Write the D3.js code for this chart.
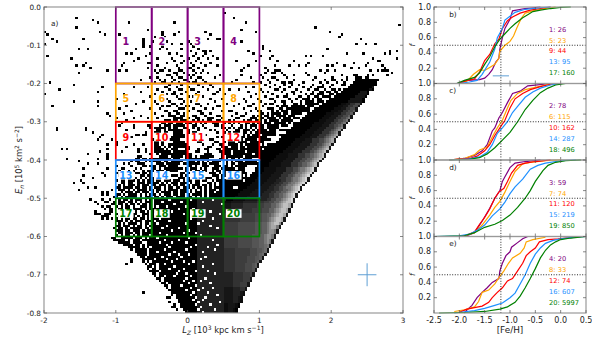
<!DOCTYPE html>
<html><head><meta charset="utf-8">
<style>html,body{margin:0;padding:0;background:#fff}svg{display:block}text{font-family:"DejaVu Sans",sans-serif;fill:#222}</style>
<script src="https://cdnjs.cloudflare.com/ajax/libs/d3/7.8.5/d3.min.js"></script>
</head><body><div id="c"></div>
<script>
const lzTicks=[-2,-1,0,1,2,3];
const enTicks=[0,-0.1,-0.2,-0.3,-0.4,-0.5,-0.6,-0.7,-0.8];
const fTicks=[0.2,0.4,0.6,0.8,1.0];
const fehTicks=[-2.5,-2,-1.5,-1,-0.5,0,0.5];
const lzEdges=[-1,-0.5,0,0.5,1];
const enEdges=[0,-0.2,-0.3,-0.4,-0.5,-0.6];
const rowColours=["#800080","#ffa500","#ff0000","#1e90ff","#008000"];
const lzBinsPerUnit=30, enBinsPerUnit=160;
const grayStep=24;
// histogram cells, one string per En bin: "LzBin:pattern" with # black, digits grey, . empty
const sparseBins=["","","75:#","","13:# 79:#","20:#","22:# 35:# 54:# 84:#","148:#","13:# 113:#","43:# 82:#",
"0:# 23:# 49:# 56:# 67:# 88:# 119:#","1:# 25:# 31:# 49:# 54:# 69:# 124:#","46:# 50:# 123:#","3:# 16:# 41:# 68:# 72:## 132:#","5:# 41:# 45:# 51:# 60:# 82:#","0:# 41:# 53:# 57:# 61:# 130:# 134:# 138:#","41:# 44:# 49:# 62:# 91:#","14:# 18:# 38:# 48:# 51:# 57:# 64:# 91:# 118:#","61:# 66:## 69:# 85:# 94:# 144:# 147:#","34:# 36:# 44:# 52:# 55:# 63:# 67:# 87:# 126:# 133:# 142:# 144:#",
"1:# 42:# 57:# 62:# 66:# 70:# 90:# 95:# 109:# 111:# 116:#","11:# 39:# 47:# 53:# 60:# 64:# 68:# 72:# 94:# 137:# 147:#","37:# 54:# 58:# 63:# 80:# 88:# 97:# 104:# 139:##","17:# 33:# 43:## 51:# 57:# 61:# 65:# 69:# 110:# 122:# 129:# 135:#","13:# 16:# 32:# 47:# 55:# 62:# 67:# 72:# 85:# 96:# 102:# 106:# 109:# 118:# 120:# 125:# 134:# 141:#","19:# 43:# 50:# 56:# 60:## 64:# 83:# 92:# 128:# 131:# 142:#","26:# 31:# 34:# 46:# 48:## 52:# 56:## 62:# 66:# 82:# 93:# 96:### 115:# 118:# 121:# 136:# 139:# 141:## 143:#","14:# 47:# 54:## 58:# 63:# 65:# 68:# 92:# 95:## 99:# 109:# 117:# 145:#","51:## 55:# 60:# 62:# 73:# 82:# 90:# 100:# 104:# 110:# 124:# 129:## 135:# 137:# 143:#","44:# 47:# 53:# 56:## 61:# 64:## 71:# 86:# 91:# 95:## 101:# 113:# 120:# 126:# 130:### 134:##",
"40:# 48:# 50:# 54:# 58:## 63:# 66:# 80:# 93:# 97:# 104:# 112:# 117:# 120:## 124:# 126:#","2:# 46:# 49:## 53:# 56:# 60:# 62:## 67:# 78:# 87:# 90:# 94:# 99:## 102:## 108:# 115:# 118:# 122:# 125:#","12:# 52:# 57:# 64:# 69:# 92:# 96:# 100:# 103:# 106:# 112:# 116:# 120:# 124:##","24:# 37:# 43:# 50:## 55:# 60:# 66:# 70:# 84:# 87:# 94:# 98:# 102:# 108:# 111:# 114:### 119:#","6:# 47:# 52:# 56:## 61:## 68:# 73:# 77:# 81:# 90:# 96:## 100:# 105:# 110:# 113:## 117:# 120:## 123:#","22:# 40:# 49:# 54:# 59:# 64:# 72:# 85:# 91:# 93:# 99:# 103:## 107:# 112:# 115:## 118:## 121:##","0:# 33:# 46:# 51:# 53:## 57:# 63:# 70:## 75:# 88:# 95:# 101:# 104:# 109:# 111:## 114:### 119:##","44:# 48:# 55:# 60:# 62:# 66:# 80:# 86:# 92:# 97:# 100:## 106:## 110:# 113:## 116:####","30:# 35:# 50:## 56:## 65:# 69:# 74:# 78:# 83:# 89:# 94:## 102:# 105:# 108:### 112:#.##","12:# 22:# 41:# 46:# 52:# 58:# 61:# 64:## 71:# 84:# 90:# 96:# 99:## 103:# 107:#.## 111:##.###",
"38:# 47:# 53:## 57:# 63:## 68:# 76:# 81:# 87:# 92:# 94:## 100:# 104:##.# 109:######","3:# 22:# 34:# 49:# 51:## 55:# 59:## 65:# 72:## 79:# 85:## 91:# 97:#.## 101:#.### 106:###.###","31:# 44:# 48:# 56:### 62:# 67:# 70:# 83:# 88:# 93:### 98:##.## 103:########","36:# 50:## 54:## 60:# 64:## 74:# 77:## 86:# 89:## 95:#.#.## 101:#.########","26:# 33:# 46:# 52:# 55:## 58:# 65:## 69:# 80:# 84:# 90:##.#.### 98:#.##.#####","27:# 40:# 49:# 52:### 57:## 62:## 67:# 72:## 78:# 82:## 87:#.## 92:##.#.####.###","30:# 37:# 43:# 47:# 54:#### 60:# 63:## 68:### 74:# 80:## 86:###.##.####.#.###.###","34:# 50:###.## 57:### 62:#.# 66:#.## 72:## 77:#.# 83:#.##.###.#.####.#####","32:# 49:##.## 55:### 59:### 63:#.#.# 70:### 75:#.# 79:#.# 84:##.#.##.###.#####.#.#","31:# 37:# 43:## 48:#.###.## 56:### 62:## 66:# 71:##.# 78:# 82:#.#.###.##.#####.###",
"5:# 17:# 37:# 44:#.#####.#.## 58:## 62:#.# 67:# 74:## 77:#.# 81:##.#.#.#.##.#####","5:# 17:# 34:# 47:##.#.###### 60:# 64:# 69:#.# 76:# 80:##.###.#.####.###.####","20:# 42:# 46:###.##..#### 60:# 62:## 72:# 75:#.# 79:###.##.#.#########","24:# 38:## 41:## 49:###..##### 61:# 66:## 78:#.##.#.#.###.######.###","23:# 36:# 47:##.#..######. 65:## 72:#.# 77:#.#.###.########","22:# 28:# 45:###...###### 62:# 64:# 69:## 76:##.##.#.#####.#####","30:# 46:##.#....##### 64:## 71:## 75:#.###.####.######","26:# 30:# 37:# 41:# 46:##.#..######## 66:# 70:# 73:## 77:####.#.######.#.###","34:# 46:###.#.#.####### 68:## 74:###.###.##.##########","7:# 9:# 26:# 39:# 42:# 46:####.#.### 59:## 64:# 67:## 72:##.######.#########.##",
"23:# 32:# 39:# 42:# 46:#######.###### 63:## 68:# 73:#####.#####.##########","18:# 26:# 44:# 47:#.############# 67:### 74:####.########.#######","26:# 39:## 48:####.#####.## 61:#.# 65:###### 74:#.#######.###########","9:# 22:# 26:# 38:##.## 44:#########.### 59:########## 73:##.#.##.#.####","14:# 36:#.## 42:#.#####.##.##### 60:###.#.#.#.#### 76:#.#.###.#####","18:# 22:# 33:#.# 39:### 47:###.######.#### 62:###.##.#### 76:#.##.#########","30:# 36:# 41:## 44:###.###.#### 60:##.#..### 71:###.##.#.#####","16:# 26:# 32:## 38:#.# 45:##.#.########.#.###.#.# 70:###.######.###","31:# 35:#.# 41:#.###.###.##### 59:#.#.##.## 70:#.##.#########","24:# 30:## 36:#.##.##.#.##### 57:##.###.#.# 69:###.#.##########",
"16:# 25:# 31:### 40:##.##.######.###.#.#.#.## 70:###.###.#####.#","20:# 33:#.##.#.#.#.##.#### 56:###.#.#.#.#### 72:#.#.#########","15:# 30:#.##.###.#.#.###.##.###.###.#.##.##.## 70:#.###########","12:# 16:# 32:##.##..###.#####.#.#.###.###.#.## 68:##.#.###########","31:#.#.###.#.###.##.###.#.##.##.#.###.##.#.#.#########","18:# 21:# 30:##.####.##.##.#.###.#.##.##.###.#.##.#.#.########","14:# 28:# 31:###.#.#.####.##.##.#.####.###.#.#.#.#.###.########","24:# 26:# 32:#.###.##.###.#.#.####.##.###.#.###.#.##.##########","24:# 26:# 30:##.#.####.#.#.###.#.###.##.##.#.####.#.###########","29:##.#.#####.#.###.##.#.###.####.##.#.#.#.#############",
"19:# 24:# 27:# 31:#.##.#.###.#.#.##.#.####.##.####.###.###.###.#######","21:# 25:## 29:#.###.##.#.#.###.##.#######.#########.########.##.#.##","22:# 28:##.##.#.##.#.##.#.###.########.#####.#########.#.####.###","24:# 26:## 30:#.#.##.#..###.#.##.##.#.#####.#######.##.#####.####","25:#.## 31:##.##.####.#.##.#######.#####.####.##.######.#.###","21:# 27:## 32:#.###.#.##.#.###.######.#.##########.#####.####","21:### 25:### 30:#.##.#.##..###.##.###########.########.########","24:### 31:##.####.#.#.#.###.#####.#.#####.###.###.#####.##","24:# 26:# 28:# 30:#.#.##.##.##.#.##.####.#################.########","30:###.#.#.###.####.#.#####.##.##.######.#.####.#####",
"31:#.#.####.#.##.###.#######.#####.###.###########.##","30:##.###.#.##.#.###.##.#######.#.#########.########","29:#.##.#.#####.##.#.#########.##.##.##.##########","30:###.##.###.#.####.##########.#####.##.########","31:##.###.##.#####.########.####.######.#########","30:#.#.##.#.#.###.##.###########.######.##.#######","28:##..#####.###.#.###.###################.#######","29:#####.#.###.####.#####.#.#.###.########.#####.1#1##1","31:#####.####..#.#.#####.#####.###.#######.####1#1#1##","33:####.##.#.####.##.#.########.###.#######.##1#1#1#1",
"35:#####.#.#.###.#.##.#.#####.###.#.##.#####1#1#11#1","36:#.#####.#.###.###.##.#####.###.#.####1#1#.#1#1","38:#####.##.#.###.#.###.######.#.####.##1#.1#1#1","39:####.##.###.#.##.#.#####.#.#####.#1#1#.1","40:##.####.#.#.#.####.###.###.#.###.##1#1","36:# 41:#####.###.#.##.#.####.#.###.#.#####1","36:# 41:#.#.###..##.#.###.##.#.###.###.##1#","34:# 42:#.###.#.#.#.##.###.#.##.#.####.#1#","43:##.#.###.#.###.#.##.####.#.###.##","43:#.##.##.#.#.##.###.#.##.###.####",
"44:####.#.##.###.#.####.#.#.##.##","45:##.###.#.##.##.#.###.####.###","46:#.##..#.###.#.##.###.#.#####","47:##.#.#.###.#.####.##.######","48:#.###.##.#.###.##.#.######","49:##.#.##.###.#.###.#######","50:##.#.###.#.####.#.######","51:#.###.#.####.##.#######","52:###.#.#.###.###.#.#####","41:# 53:##.###.#.###.#.######",
"53:#.#.####.###.#.###.###","51:## 55:#.###.##.####.#.####","56:###.#.#.####.#.#######","52:# 56:#.##.#.###.##.#.#####","54:# 57:####.#.#.###.###.###","53:## 60:#.#.###.#.####.##","55:# 60:##.#..###.#####","60:#.#.#.#..####.#"];
// solid dark bed under the dense lower region: first Lz bin per En bin, starting at En bin 80
const bedFirstBin=80, bedGreyFrom=64, bedEnd=76, bedGrey=1.5;
const bedStarts=[47,47,46,47,46,47,46,47,46,47,46,47,46,47,46,47,46,44,44,44,45,45,46,46,47,47,48,48,49,49,50,50,51,51,52,52,53,53,54,54,55,55,56,56,57,57,58,59];
// empty Lz bins punched through the dense lower region, En bins 80 to 127
const holeBins=["52 61 70","49 66 57","54 74","47 59 51","62 56","69 49 53","73 46 58","50 63","61 48 70","52 66","47 64 59","69 51","49 72 56","60 53","48 63 58","65 51","47 60",
"56 70 50","48 59 53","63 51 72","68 52 61","50 59 71","54 66 47","52 60 56","57 67 49","55 65 51","62 58 53","70 50 60","54 66","58 52","63 56 68","55 71 59","61 54","59 67","65 62 58","60 69","63 57","61 70 66","59 64","68 62","61 72","67 63","66 62","64 73","69 63","65","71 64","66"];
// dense wedge: "firstLzBin grey*count ..." per En bin, starting at En bin 30
const wedgeBins=["130 0*10","129 0*10","128 0*11","127 0*10 1*1","125 0*11 1*1 0*1","124 0*8 1*3 0*1","122 0*9 1*4 0*1","121 0*9 1*4 0*1","119 0*9 1*5 0*1","118 0*9 1*6 0*1",
"116 0*8 .5*2 1*2 2*2 3*2 1*1","115 0*8 .5*2 1*2 2*2 3*2 1*1","113 0*8 .5*3 1*2 2*2 3*2 1*1","112 0*8 .5*3 1*2 2*2 3*2 4*1 1*1","110 0*8 .5*3 1*3 2*2 3*2 4*1 1*1","109 0*8 .5*3 1*3 2*2 3*2 4*1 1*1","108 0*8 .5*3 1*3 2*2 3*2 4*1 5*1 1*1","107 0*8 .5*3 1*3 2*2 3*2 4*1 5*1 1*1","105 0*8 .5*4 1*3 2*2 3*2 4*1 5*1 1*1","104 0*8 .5*4 1*3 2*2 3*2 4*1 5*1 1*1",
"103 0*8 .5*4 1*3 2*3 3*1 4*1 5*1 6*1 1*1","102 0*8 .5*4 1*3 2*3 3*1 4*1 5*1 6*1 1*1","101 0*8 .5*4 1*3 2*3 3*1 4*1 5*1 6*1 1*1","100 0*8 .5*4 1*3 2*3 3*1 4*1 5*1 6*1 7*1 1*1","99 0*8 .5*4 1*3 2*3 3*1 4*1 5*1 6*1 7*1 1*1","98 0*7 .5*4 1*3 2*3 3*2 4*1 5*1 6*1 7*1 1*1","97 0*7 .5*4 1*4 2*3 3*2 4*1 5*1 6*1 7*1 1*1","96 0*7 .5*4 1*4 2*3 3*2 4*1 5*1 6*1 7*1 1*1","95 0*7 .5*4 1*4 2*3 3*2 4*1 5*1 6*1 7*1 1*1","94 0*7 .5*4 1*4 2*3 3*2 4*1 5*1 6*1 7*1 8*1 1*1",
"93 0*7 .5*4 1*4 2*3 3*2 4*1 5*1 6*1 7*1 8*1 1*1","92 0*6 .5*4 1*4 2*3 3*2 4*2 5*1 6*1 7*1 8*1 1*1","91 0*6 .5*5 1*4 2*3 3*2 4*2 5*1 6*1 7*1 8*1 1*1","90 0*6 .5*5 1*4 2*3 3*2 4*2 5*1 6*1 7*1 8*1 1*1","90 0*5 .5*5 1*4 2*3 3*2 4*2 5*1 6*1 7*1 8*1 1*1","89 0*5 .5*5 1*4 2*3 3*2 4*2 5*1 6*1 7*1 8*1 1*1","89 0*5 .5*5 1*4 2*3 3*2 4*2 5*1 6*1 7*1 8*1 1*1","88 0*4 .5*5 1*4 2*3 3*2 4*1 5*2 6*1 7*1 8*1 9*1 1*1","88 0*4 .5*5 1*4 2*3 3*2 4*1 5*2 6*1 7*1 8*1 9*1 1*1","87 0*4 .5*5 1*4 2*3 3*2 4*1 5*2 6*1 7*1 8*1 9*1 1*1",
"86 0*4 .5*5 1*4 2*3 3*2 4*1 5*2 6*1 7*1 8*1 9*1 1*1","85 0*4 .5*5 1*4 2*3 3*2 4*1 5*2 6*1 7*1 8*1 9*1 1*1","84 0*4 .5*5 1*4 1.5*2 2*2 3*2 4*1 5*2 6*1 7*1 8*1 9*1 1*1","83 0*4 .5*5 1*4 1.5*2 2*2 3*2 4*1 5*2 6*1 7*1 8*1 9*1 1*1","82 0*4 .5*5 1*4 1.5*2 2*2 3*2 4*1 5*2 6*1 7*1 8*1 9*1 1*1","81 0*4 .5*5 1*4 1.5*2 2*2 3*2 4*1 5*2 6*1 7*1 8*1 9*1 1*1","80 0*3 .5*5 1*5 1.5*3 2*2 3*2 4*2 5*1 6*1 7*1 8*1 9*1 1*1","79 0*3 .5*5 1*5 1.5*3 2*2 3*2 4*2 5*1 6*1 7*1 8*1 9*1 1*1","78 0*3 .5*5 1*5 1.5*3 2*2 3*2 4*2 5*1 6*1 7*1 8*1 9*1 1*1","77 0*3 .5*5 1*5 1.5*4 2*2 3*2 4*2 5*1 6*1 7*1 8*1 9*1 1*1",
"76 0*3 .5*5 1*5 1.5*4 2*2 3*2 4*2 5*1 6*1 7*1 8*1 9*1 1*1","75 .5*3 1*5 1.5*6 2*3 2.5*2 3*2 4*2 5*1 6*1 7*1 8*2 9*1 1*1","75 1*3 1.5*5 2*6 2.5*3 3*3 4*2 5*1 6*1 7*1 8*2 7*1 1*1","75 1*3 1.5*5 2*6 2.5*3 3*3 4*2 5*1 6*1 7*1 8*2 7*1 1*1","75 1.5*5 2*7 2.5*4 3*3 4*2 5*1 6*1 7*1 8*2 7*1 1*1","75 1.5*5 2*7 2.5*4 3*3 4*2 5*1 6*1 7*1 8*2 7*1 1*1","75 2*7 2.5*6 3*3 3.5*2 4*2 5*1 6*1 7*1 8*2 7*1 1*1","75 2*7 2.5*6 3*3 3.5*2 4*2 5*1 6*1 7*1 8*2 7*1 1*1","75 2*7 2.5*6 3*3 3.5*2 4*1 5*1 6*1 7*1 8*2 7*1 1*1","75 2*7 2.5*6 3*3 3.5*2 4*1 5*1 6*1 7*1 8*2 7*1 1*1",
"75 2.5*6 3*7 3.5*3 4*2 5*1 6*1 7*1 8*2 6*1 1*1","75 2.5*6 3*7 3.5*3 4*2 5*1 6*1 7*2 5*1 1*1","75 2.5*6 3*7 3.5*3 4*2 5*1 6*1 7*2 5*1 1*1","75 2.5*6 3*7 3.5*3 4*2 5*1 6*2 5*1 1*1","75 2.5*6 3*7 3.5*3 4*2 5*1 6*2 5*1 1*1","75 2.5*6 3*6 3.5*3 4*2 5*1 6*2 5*1 1*1","75 2.5*6 3*6 3.5*3 4*2 5*1 6*2 5*1 1*1","75 2.5*6 3*6 3.5*3 4*2 5*1 6*1 5*1 1*1","75 2.5*6 3*6 3.5*3 4*2 5*1 6*1 5*1 1*1","75 2.5*6 3*6 3.5*3 4*2 4.5*1 5*1 1*1",
"75 2.5*6 3*6 3.5*3 4*2 4.5*1 5*1 1*1","75 2*5 2.5*6 3*3 3.5*2 4*1 4.5*1 1*1","75 2*5 2.5*6 3*3 3.5*2 4*1 4.5*1 1*1","75 2*5 2.5*6 3*3 3.5*1 4*1 4.5*1 1*1","75 2*5 2.5*5 3*3 3.5*2 4*1 1*1","75 2*5 2.5*5 3*3 3.5*2 4*1 1*1","75 2*5 2.5*5 3*3 3.5*1 4*1 1*1","75 2*5 2.5*4 3*3 3.5*1 4*1 1*1","75 2*5 2.5*4 3*3 3.5*1 4*1 1*1","75 2*5 2.5*4 3*3 3.5*1 1*1",
"75 2*5 2.5*4 3*3 3.5*1 1*1","75 1.5*4 2*4 2.5*3 3*1 1*1","75 1.5*4 2*4 2.5*3 3*1 1*1","75 1.5*4 2*4 2.5*3 1*1","75 1.5*4 2*4 2.5*3 1*1","75 1.5*4 2*3 2.5*3 1*1","75 1.5*4 2*3 2.5*3 1*1","75 1*4 1.5*3 2*2 1*1","75 1*4 1.5*3 2*2 1*1","75 1*4 1.5*3 1*1 .5*1",
"75 1*4 1.5*3 1*1 .5*1","75 1*4 1.5*2 1*1 .5*1","75 1*4 1.5*2 1*1 .5*1","75 1*4 1.5*2 1*1 .5*1","75 .5*2 1*3 .5*1 0*1","75 .5*2 1*3 .5*1 0*1","75 .5*2 1*2 .5*1 0*1","75 .5*2 1*2 .5*1 0*1"];
const wedgeFirstBin=30;
const boxLabels=[["1",-0.86,-0.09],["2",-0.36,-0.09],["3",0.14,-0.09],["4",0.64,-0.09],
["5",-0.86,-0.24],["6",-0.36,-0.24],["7",0.14,-0.24],["8",0.64,-0.24],
["9",-0.86,-0.34],["10",-0.36,-0.34],["11",0.14,-0.34],["12",0.64,-0.34],
["13",-0.86,-0.44],["14",-0.36,-0.44],["15",0.14,-0.44],["16",0.64,-0.44],
["17",-0.86,-0.54],["18",-0.36,-0.54],["19",0.14,-0.54],["20",0.64,-0.54]];
const errLz=[2.5,0.13], errEn=[-0.7,0.03];
const errFeh=[-1.18,0.16,0.1], medianFeh=-1.18, medianF=0.5;
const cdf1=[[-2.05,0],[-1.85,.04],[-1.6,.05],[-1.5,.07],[-1.42,.12],[-1.35,.18],[-1.28,.28],[-1.22,.33],[-1.2,.45],[-1.15,.6],[-1.1,.72],[-1,.84],[-.95,.95],[-.7,.98],[-.4,1]];
const cdf5=[[-2,0],[-1.85,.03],[-1.72,.12],[-1.6,.18],[-1.5,.17],[-1.4,.21],[-1.3,.25],[-1.22,.33],[-1.2,.42],[-1.1,.5],[-1,.55],[-.93,.62],[-.87,.72],[-.78,.85],[-.7,.92],[-.55,.95],[-.3,.98],[-.1,1]];
const cdf9=[[-2,0],[-1.85,.04],[-1.7,.06],[-1.6,.15],[-1.5,.3],[-1.4,.38],[-1.3,.52],[-1.22,.58],[-1.15,.72],[-1.05,.82],[-.95,.87],[-.8,.92],[-.6,.96],[-.4,.98],[-.2,1]];
const cdf13=[[-2,0],[-1.8,.02],[-1.65,.04],[-1.55,.12],[-1.4,.28],[-1.3,.45],[-1.25,.6],[-1.15,.72],[-1.1,.83],[-1,.88],[-.9,.93],[-.7,.97],[-.4,.99],[-.2,1]];
const cdf17=[[-2.05,0],[-1.9,.04],[-1.7,.08],[-1.6,.14],[-1.5,.25],[-1.4,.35],[-1.3,.48],[-1.2,.58],[-1.1,.65],[-1,.72],[-.9,.78],[-.75,.86],[-.65,.9],[-.55,.94],[-.4,.96],[-.2,.98],[0,.995],[.2,1]];
const cdf2=[[-2.2,0],[-1.9,.02],[-1.7,.06],[-1.55,.12],[-1.45,.2],[-1.35,.38],[-1.3,.42],[-1.22,.55],[-1.15,.62],[-1.05,.75],[-.95,.87],[-.8,.9],[-.65,.97],[-.5,.98],[-.2,1]];
const cdf6=[[-2.2,0],[-1.9,.02],[-1.7,.07],[-1.6,.13],[-1.45,.17],[-1.35,.3],[-1.25,.42],[-1.15,.52],[-1.05,.68],[-.98,.78],[-.85,.87],[-.7,.92],[-.5,.95],[-.3,.98],[-.1,1]];
const cdf10=[[-2.2,0],[-1.8,.02],[-1.65,.05],[-1.5,.12],[-1.4,.2],[-1.3,.32],[-1.2,.42],[-1.1,.52],[-1,.68],[-.9,.8],[-.75,.87],[-.6,.92],[-.4,.96],[-.2,.99],[0,1]];
const cdf14=[[-2.2,0],[-1.8,.015],[-1.6,.04],[-1.45,.1],[-1.35,.2],[-1.25,.35],[-1.15,.42],[-1.05,.5],[-.95,.62],[-.85,.7],[-.7,.82],[-.55,.89],[-.4,.94],[-.2,.98],[0,1]];
const cdf18=[[-2.2,0],[-1.8,.01],[-1.6,.03],[-1.45,.08],[-1.3,.16],[-1.15,.26],[-1,.36],[-.85,.5],[-.7,.66],[-.55,.78],[-.4,.88],[-.25,.94],[-.1,.98],[.1,1],[.3,1]];
const cdf3=[[-2,0],[-1.85,.01],[-1.7,.05],[-1.55,.2],[-1.4,.37],[-1.3,.5],[-1.2,.6],[-1.15,.72],[-1.1,.78],[-1,.9],[-.9,.96],[-.7,.98],[-.4,1]];
const cdf7=[[-1.9,.01],[-1.7,.05],[-1.55,.15],[-1.4,.28],[-1.3,.38],[-1.2,.46],[-1.1,.58],[-1,.72],[-.9,.85],[-.75,.95],[-.6,.97],[-.3,.99],[0,1]];
const cdf11=[[-2,0],[-1.85,.02],[-1.7,.06],[-1.6,.16],[-1.5,.25],[-1.4,.36],[-1.3,.5],[-1.22,.58],[-1.12,.63],[-1.05,.72],[-.97,.83],[-.85,.93],[-.7,.96],[-.5,.98],[-.2,1]];
const cdf15=[[-2.5,0],[-2,.01],[-1.8,.03],[-1.65,.08],[-1.5,.15],[-1.35,.27],[-1.2,.36],[-1.1,.45],[-1,.56],[-.9,.65],[-.75,.75],[-.6,.88],[-.45,.93],[-.3,.96],[0,.99],[.3,1]];
const cdf19=[[-2.5,0],[-1.9,.01],[-1.7,.05],[-1.5,.12],[-1.3,.16],[-1.15,.21],[-1,.28],[-.85,.38],[-.7,.5],[-.6,.6],[-.5,.72],[-.35,.86],[-.25,.93],[-.1,.97],[.1,.99],[.4,1]];
const cdf4=[[-1.9,0],[-1.85,.04],[-1.75,.1],[-1.65,.2],[-1.55,.27],[-1.45,.33],[-1.35,.4],[-1.22,.45],[-1.2,.55],[-1.15,.65],[-1.08,.75],[-1,.8],[-.97,.86],[-.85,.92],[-.75,.97],[-.65,1]];
const cdf8=[[-2.1,.02],[-1.9,.04],[-1.7,.08],[-1.62,.15],[-1.55,.27],[-1.42,.3],[-1.3,.38],[-1.2,.48],[-1.12,.55],[-1.03,.65],[-.95,.72],[-.8,.78],[-.72,.85],[-.68,.93],[-.55,.96],[-.3,.99]];
const cdf12=[[-2,.01],[-1.85,.05],[-1.7,.07],[-1.55,.09],[-1.42,.14],[-1.35,.2],[-1.25,.27],[-1.15,.33],[-1.05,.42],[-.95,.45],[-.85,.55],[-.75,.65],[-.68,.75],[-.6,.8],[-.5,.85],[-.42,.93],[-.25,.96],[-.05,.97],[.1,.98],[.4,1]];
const cdf16=[[-2.1,0],[-1.7,.03],[-1.5,.06],[-1.3,.1],[-1.15,.13],[-1,.2],[-.9,.26],[-.8,.38],[-.7,.5],[-.6,.65],[-.5,.77],[-.4,.85],[-.3,.91],[-.15,.95],[0,.97],[.2,.985],[.5,1]];
const cdf20=[[-2.4,0],[-1.8,.01],[-1.5,.02],[-1.2,.05],[-1.05,.08],[-.9,.14],[-.8,.22],[-.7,.33],[-.6,.45],[-.5,.58],[-.4,.72],[-.3,.82],[-.2,.89],[-.1,.93],[0,.96],[.2,.98],[.5,1]];
const panelLetters=["b)","c)","d)","e)"];
const panelCurves=[[cdf1,cdf5,cdf9,cdf13,cdf17],[cdf2,cdf6,cdf10,cdf14,cdf18],[cdf3,cdf7,cdf11,cdf15,cdf19],[cdf4,cdf8,cdf12,cdf16,cdf20]];
const panelLegends=[["1: 26","5: 23","9: 44","13: 95","17: 160"],["2: 78","6: 115","10: 162","14: 287","18: 496"],["3: 59","7: 74","11: 120","15: 219","19: 850"],["4: 20","8: 33","12: 74","16: 607","20: 5997"]];

const W=592,H=348;
const spine="#999", tickCol="#555";
const svg=d3.select("#c").append("svg").attr("width",W).attr("height",H);
svg.append("defs").append("filter").attr("id","soft").attr("x","0").attr("y","0").attr("width","1").attr("height","1")
  .append("feGaussianBlur").attr("stdDeviation",0.55);
const x=d3.scaleLinear().domain([-2,3]).range([44,403]);
const y=d3.scaleLinear().domain([0,-0.8]).range([7,313]);
const grey=d3.scaleLinear().domain([0,10]).range([0,grayStep*10]).clamp(false);
const fill=d=>{const g=Math.min(255,Math.round(grey(d)));return `rgb(${g},${g},${g})`;};
const WHITE=255/grayStep;
const cells=[];
sparseBins.forEach((s,r)=>{ if(!s) return; s.split(" ").forEach(tok=>{
  const [c,p]=tok.split(":");
  [...p].forEach((ch,i)=>{ if(ch==="." ) return; cells.push([+c+i,r,ch==="#"?0:+ch]); });
});});
bedStarts.forEach((b,k)=>{ for(let c=b;c<bedEnd;c++) cells.push([c,bedFirstBin+k,c<bedGreyFrom?0:bedGrey]); });
holeBins.forEach((s,k)=>{ s.split(" ").forEach(c=>cells.push([+c,bedFirstBin+k,WHITE])); });
wedgeBins.forEach((s,k)=>{ const parts=s.split(" "); let c=+parts[0];
  parts.slice(1).forEach(t=>{const [g,n]=t.split("*"); for(let i=0;i<+n;i++) cells.push([c++,wedgeFirstBin+k,+g]);});
});
const cw=x(1/lzBinsPerUnit)-x(0), ch=y(-1/enBinsPerUnit)-y(0);
svg.append("g").attr("filter","url(#soft)").append("g").attr("shape-rendering","crispEdges").selectAll("rect").data(cells).join("rect")
  .attr("x",d=>x(-2+d[0]/lzBinsPerUnit)).attr("y",d=>y(-d[1]/enBinsPerUnit))
  .attr("width",cw).attr("height",ch).attr("fill",d=>fill(d[2]));

// boxes
const boxes=svg.append("g").attr("fill","none").attr("stroke-width",1.7);
for(let j=0;j<rowColours.length;j++) for(let i=0;i<lzEdges.length-1;i++){
  boxes.append("rect").attr("x",x(lzEdges[i])).attr("y",y(enEdges[j]))
   .attr("width",x(lzEdges[i+1])-x(lzEdges[i])).attr("height",y(enEdges[j+1])-y(enEdges[j])).attr("stroke",rowColours[j]);
}
// box labels
const labs=svg.append("g");
boxLabels.forEach((d,idx)=>{
  const col=rowColours[Math.floor(idx/4)];
  const t=labs.append("text").attr("x",x(d[1])).attr("y",y(d[2])).attr("text-anchor","middle").attr("dominant-baseline","central")
    .attr("font-size",9.6).attr("font-weight","bold").style("fill",col).text(d[0]);
  const b=t.node().getBBox();
  labs.insert("rect","text").attr("x",b.x-1).attr("y",b.y+1.2).attr("width",b.width+2).attr("height",b.height-2.4).attr("fill","#fff");
});

function frame(g,xs,ys,xt,yt,fs,xl,yl){
  const [x0,x1]=xs.range(), [y0,y1]=d3.extent(ys.range());
  g.append("rect").attr("x",x0).attr("y",y0).attr("width",x1-x0).attr("height",y1-y0).attr("fill","none").attr("stroke",spine).attr("stroke-width",1.2);
  const tk=g.append("g").attr("stroke",tickCol).attr("stroke-width",.7);
  xt.forEach(v=>{tk.append("line").attr("x1",xs(v)).attr("x2",xs(v)).attr("y1",y1).attr("y2",y1-3);
    tk.append("line").attr("x1",xs(v)).attr("x2",xs(v)).attr("y1",y0).attr("y2",y0+3);});
  yt.forEach(v=>{tk.append("line").attr("x1",x0).attr("x2",x0+3).attr("y1",ys(v)).attr("y2",ys(v));
    tk.append("line").attr("x1",x1).attr("x2",x1-3).attr("y1",ys(v)).attr("y2",ys(v));});
  if(xl) xt.forEach(v=>g.append("text").attr("x",xs(v)).attr("y",y1+10).attr("text-anchor","middle").attr("font-size",fs).text(xl(v)));
  if(yl) yt.forEach(v=>g.append("text").attr("x",x0-3).attr("y",ys(v)).attr("text-anchor","end").attr("dominant-baseline","central").attr("font-size",fs).text(yl(v)));
}
const hy=v=>d3.format(".1f")(v).replace("−","-");
frame(svg.append("g"),x,y,lzTicks,enTicks,7.3,v=>d3.format("d")(v).replace("−","-"),hy);
// error cross
const err=svg.append("g").attr("stroke","#5f9fd4").attr("stroke-width",1);
err.append("line").attr("x1",x(errLz[0]-errLz[1])).attr("x2",x(errLz[0]+errLz[1])).attr("y1",y(errEn[0])).attr("y2",y(errEn[0]));
err.append("line").attr("x1",x(errLz[0])).attr("x2",x(errLz[0])).attr("y1",y(errEn[0]-errEn[1])).attr("y2",y(errEn[0]+errEn[1]));
svg.append("text").attr("x",51).attr("y",26).attr("font-size",7.3).text("a)");
const xlab=svg.append("text").attr("x",223).attr("y",333).attr("text-anchor","middle").attr("font-size",8.4);
xlab.append("tspan").attr("font-style","italic").text("L");
xlab.append("tspan").attr("font-style","italic").attr("font-size",6).attr("dy",1.5).text("Z");
xlab.append("tspan").attr("dy",-1.5).text(" [10");
xlab.append("tspan").attr("font-size",6).attr("dy",-3).text("3");
xlab.append("tspan").attr("dy",3).text(" kpc km s");
xlab.append("tspan").attr("font-size",6).attr("dy",-3).text("−1");
xlab.append("tspan").attr("dy",3).text("]");
const ylab=svg.append("text").attr("transform","translate(22,160) rotate(-90)").attr("text-anchor","middle").attr("font-size",8.4);
ylab.append("tspan").attr("font-style","italic").text("E");
ylab.append("tspan").attr("font-style","italic").attr("font-size",6).attr("dy",1.5).text("n");
ylab.append("tspan").attr("dy",-1.5).text(" [10");
ylab.append("tspan").attr("font-size",6).attr("dy",-3).text("5");
ylab.append("tspan").attr("dy",3).text(" km");
ylab.append("tspan").attr("font-size",6).attr("dy",-3).text("2");
ylab.append("tspan").attr("dy",3).text(" s");
ylab.append("tspan").attr("font-size",6).attr("dy",-3).text("−2");
ylab.append("tspan").attr("dy",3).text("]");

// CDF panels
const fx=d3.scaleLinear().domain([-2.5,0.5]).range([434,586]);
const panelTop=[7,83.5,160,236.5], panelH=76.5;
const line=(ys)=>d3.line().x(d=>fx(d[0])).y(d=>ys(d[1]));
panelCurves.forEach((curves,p)=>{
  const g=svg.append("g");
  const ys=d3.scaleLinear().domain([0,1]).range([panelTop[p]+panelH,panelTop[p]]);
  curves.forEach((c,i)=>g.append("path").datum(c).attr("d",line(ys)).attr("fill","none").attr("stroke",rowColours[i]).attr("stroke-width",1.2));
  g.append("line").attr("x1",fx.range()[0]).attr("x2",fx.range()[1]).attr("y1",ys(medianF)).attr("y2",ys(medianF)).attr("stroke","#111").attr("stroke-width",.9).attr("stroke-dasharray","1,1.6");
  g.append("line").attr("x1",fx(medianFeh)).attr("x2",fx(medianFeh)).attr("y1",ys(0)).attr("y2",ys(1)).attr("stroke","#111").attr("stroke-width",.9).attr("stroke-dasharray","1,1.6");
  frame(g,fx,ys,fehTicks,fTicks,8,p===3?(v=>d3.format(".1f")(v).replace("−","-")):null,d3.format(".1f"));
  g.append("text").attr("x",fx(-2.2)).attr("y",ys(0.87)).attr("font-size",7.3).text(panelLetters[p]);
  g.append("text").attr("transform",`translate(${415},${ys(0.5)}) rotate(-90)`).attr("text-anchor","middle").attr("font-size",7.5).attr("font-style","italic").text("f");
  panelLegends[p].forEach((t,i)=>g.append("text").attr("x",549).attr("y",ys(0.71-i*0.1425)+2.5).attr("font-size",6.7).style("fill",rowColours[i]).text(t));
  if(p===0){ g.append("line").attr("x1",fx(errFeh[0]-errFeh[1])).attr("x2",fx(errFeh[0]+errFeh[1])).attr("y1",ys(errFeh[2])).attr("y2",ys(errFeh[2])).attr("stroke","#5f9fd4").attr("stroke-width",1); }
});
svg.append("text").attr("x",fx(-1.0)).attr("y",333).attr("text-anchor","middle").attr("font-size",8.9).text("[Fe/H]");
</script></body></html>
